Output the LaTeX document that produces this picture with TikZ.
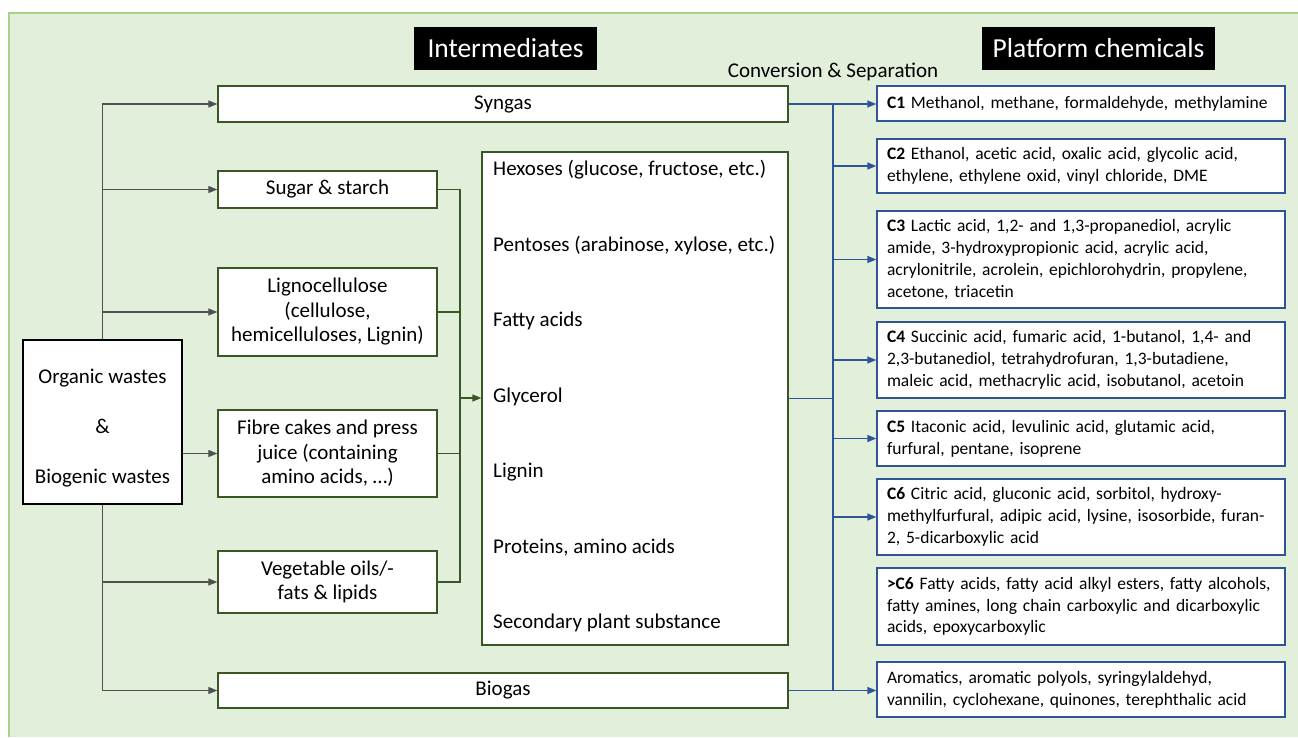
\documentclass[tikz,border=0pt]{standalone}
\usepackage{fontspec}
\setmainfont{Carlito}
\usepackage{tikz}
\usetikzlibrary{arrows.meta}

\definecolor{bggreen}{HTML}{E2EFDA}
\definecolor{bgedge}{HTML}{A9D18E}
\definecolor{boxgreen}{HTML}{385723}
\definecolor{linkblue}{HTML}{2F5597}
\definecolor{linkgray}{HTML}{505050}

\tikzset{
  hdr/.style={fill=black, text=white, inner sep=0pt, minimum height=43,
    font=\fontsize{27.5}{30}\selectfont},
  gbox/.style={draw=boxgreen, line width=1.3, fill=white, align=center,
    inner sep=0pt, font=\fontsize{21}{24.5}\selectfont},
  pbox/.style={draw=linkblue, line width=1.3, fill=white, align=left,
    text width=388, inner xsep=10, inner ysep=0pt, minimum width=408,
    font=\fontsize{17.5}{21.7}\selectfont},
  item/.style={anchor=west, inner sep=0pt, font=\fontsize{21}{24}\selectfont},
  feed/.style={draw=linkgray, line width=1.1, -{Triangle[length=9,width=7]}},
  gline/.style={draw=boxgreen, line width=1.3},
  bline/.style={draw=linkblue, line width=1.3},
  barrow/.style={bline, -{Triangle[length=9,width=7]}},
}

\begin{document}
\begin{tikzpicture}[x=1pt,y=-1pt]
  \useasboundingbox (0,0) rectangle (1298,737);
  % background panel
  \fill[bggreen] (9,13) rectangle (1298,737);
  \draw[bgedge, line width=1.2] (9,737) -- (9,13) -- (1298,13);

  % headers
  \node[hdr, minimum width=183] (inthead) at (505.5,48.5) {Intermediates};
  \node[hdr, minimum width=233] (plathead) at (1098.5,48.5) {Platform chemicals};
  \node[font=\fontsize{21}{24}\selectfont, inner sep=0pt] (convsep) at (833,72) {Conversion \& Separation};

  % source
  \node[draw=black, line width=1.3, fill=white, align=center, minimum width=159,
    minimum height=164, inner sep=0pt, font=\fontsize{21}{25}\selectfont]
    (wastes) at (102.5,422) {\rule{0pt}{27pt}Organic wastes\\[25pt]\&\\[25pt]Biogenic wastes};

  % intermediates
  \node[gbox, minimum width=570, minimum height=36] (syngas) at (503,104) {Syngas};
  \node[gbox, minimum width=219, minimum height=37] (sugar) at (327.5,189.5) {Sugar \& starch};
  \node[gbox, minimum width=219, minimum height=88] (ligno) at (327.5,312) {Lignocellulose\\(cellulose,\\hemicelluloses, Lignin)};
  \node[gbox, minimum width=219, minimum height=87] (fibre) at (327.5,453.5) {Fibre cakes and press\\juice (containing\\amino acids, \dots)};
  \node[gbox, minimum width=219, minimum height=62] (vegoil) at (327.5,582) {Vegetable oils/-\\fats \& lipids};
  \node[gbox, minimum width=570, minimum height=35] (biogas) at (503,690.5) {Biogas};

  % compound list
  \node[gbox, minimum width=306, minimum height=493] (list) at (635,398.5) {};
  \node[item] (hexoses) at (493,170) {Hexoses (glucose, fructose, etc.)};
  \node[item] (pentoses) at (493,246) {Pentoses (arabinose, xylose, etc.)};
  \node[item] (fatty) at (493,321) {Fatty acids};
  \node[item] (glycerol) at (493,397) {Glycerol};
  \node[item] (lignin) at (493,472) {Lignin};
  \node[item] (proteins) at (493,548) {Proteins, amino acids};
  \node[item] (secondary) at (493,623) {Secondary plant substance};

  % platform chemicals
  \node[pbox, minimum height=35] (c1) at (1081,103.5) {\textbf{C1} Methanol, methane, formaldehyde, methylamine};
  \node[pbox, minimum height=54] (c2) at (1081,166) {\textbf{C2} Ethanol, acetic acid, oxalic acid, glycolic acid,\\ethylene, ethylene oxid, vinyl chloride, DME};
  \node[pbox, minimum height=97] (c3) at (1081,259.5) {\textbf{C3} Lactic acid, 1,2- and 1,3-propanediol, acrylic\\amide, 3-hydroxypropionic acid, acrylic acid,\\acrylonitrile, acrolein, epichlorohydrin, propylene,\\acetone, triacetin};
  \node[pbox, minimum height=76] (c4) at (1081,360) {\textbf{C4} Succinic acid, fumaric acid, 1-butanol, 1,4- and\\2,3-butanediol, tetrahydrofuran, 1,3-butadiene,\\maleic acid, methacrylic acid, isobutanol, acetoin};
  \node[pbox, minimum height=55] (c5) at (1081,438.5) {\textbf{C5} Itaconic acid, levulinic acid, glutamic acid,\\furfural, pentane, isoprene};
  \node[pbox, minimum height=76] (c6) at (1081,517) {\textbf{C6} Citric acid, gluconic acid, sorbitol, hydroxy-\\methylfurfural, adipic acid, lysine, isosorbide, furan-\\2, 5-dicarboxylic acid};
  \node[pbox, minimum height=77] (cbig) at (1081,606.5) {\textbf{>C6} Fatty acids, fatty acid alkyl esters, fatty alcohols,\\fatty amines, long chain carboxylic and dicarboxylic\\acids, epoxycarboxylic};
  \node[pbox, minimum height=55] (arom) at (1081,689.5) {Aromatics, aromatic polyols, syringylaldehyd,\\vannilin, cyclohexane, quinones, terephthalic acid};

  % feed lines from the wastes
  \draw[feed] (wastes.north) |- (syngas.west);
  \draw[feed] (wastes.north) |- (sugar.west);
  \draw[feed] (wastes.north) |- (ligno.west);
  \draw[feed] (wastes.east |- fibre.west) -- (fibre.west);
  \draw[feed] (wastes.south) |- (vegoil.west);
  \draw[feed] (wastes.south) |- (biogas.west);

  % green collector into the list
  \coordinate (gbus) at (460,398);
  \draw[gline] (sugar.east) -| (gbus);
  \draw[gline] (ligno.east) -| (gbus);
  \draw[gline] (fibre.east) -| (gbus);
  \draw[gline] (vegoil.east) -| (gbus);
  \draw[gline, -{Triangle[length=9,width=7]}] (gbus) -- (gbus -| list.west);

  % blue conversion bus
  \coordinate (bbus) at (833,104);
  \draw[bline] (bbus) -- (bbus |- biogas.east);
  \draw[bline] (list.east) -- (list.east -| bbus);
  \draw[barrow] (syngas.east) -- (syngas.east -| c1.west);
  \draw[barrow] (biogas.east) -- (biogas.east -| arom.west);
  \foreach \n in {c2,c3,c4,c5,c6}
    \draw[barrow] (bbus |- \n.west) -- (\n.west);
\end{tikzpicture}
\end{document}
